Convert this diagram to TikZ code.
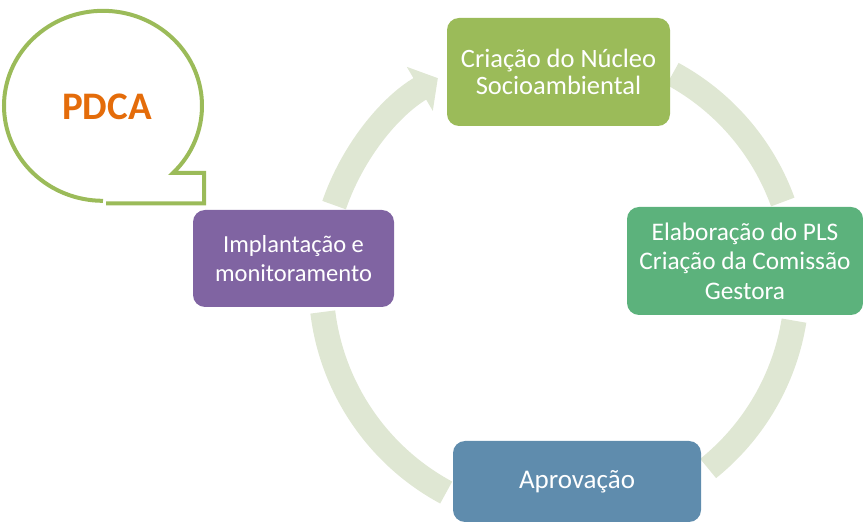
\documentclass[tikz,border=0pt]{standalone}
\usepackage{fontspec}
\setmainfont{Carlito}
\usetikzlibrary{arrows.meta}
\definecolor{ringgreen}{RGB}{223,231,211}
\definecolor{olivebox}{RGB}{155,187,89}
\definecolor{greenbox}{RGB}{92,178,124}
\definecolor{bluebox}{RGB}{95,140,173}
\definecolor{purplebox}{RGB}{128,100,162}
\definecolor{pdcaorange}{RGB}{228,108,10}
\tikzset{
    stagebox/.style={rectangle, rounded corners=12pt, draw=none, text=white, align=center,
        inner sep=0pt, font=\fontsize{25}{28}\selectfont},
    ringarc/.style={draw=ringgreen, line width=25pt}
}
\begin{document}
\begin{tikzpicture}[x=1pt, y=1pt]
            \useasboundingbox (0,0) rectangle (863,525);
            \coordinate (ctr) at (559,242);
            % ring
            \draw[ringarc] ([shift={(61.5:238)}]ctr) arc[start angle=61.5, end angle=19.9, radius=238];
            \draw[ringarc] ([shift={(-9.1:238)}]ctr) arc[start angle=-9.1, end angle=-51.2, radius=238];
            \draw[ringarc] ([shift={(241.7:238)}]ctr) arc[start angle=241.7, end angle=187, radius=238];
            \draw[ringarc, -{Triangle[width=50pt, length=21pt]}] ([shift={(160.9:238)}]ctr) arc[start angle=160.9, end angle=120.6, radius=238];
            % stages
            \node[stagebox, fill=olivebox, minimum width=223pt, minimum height=108pt, font=\fontsize{26.5}{27}\selectfont] (nucleo) at (558.5,453) {Criação do Núcleo\\Socioambiental};
            \node[stagebox, fill=greenbox, minimum width=236pt, minimum height=108pt, font=\fontsize{25.3}{29.5}\selectfont] (pls) at (745,264) {Elaboração do PLS\\Criação da Comissão\\Gestora};
            \node[stagebox, fill=bluebox, minimum width=248pt, minimum height=81pt, font=\fontsize{27}{28}\selectfont] (aprovacao) at (577,43.5) {Aprovação};
            \node[stagebox, fill=purplebox, minimum width=201pt, minimum height=97pt, font=\fontsize{24.5}{28.3}\selectfont] (implantacao) at (293.5,266.5) {Implantação e\\monitoramento};
            % callout
            \draw[olivebox, line width=4pt, line join=miter] (106,321.5) -- (204,321.5) -- (204,352) -- (173,352)
                arc[start angle=-45, end angle=270, x radius=99, y radius=95];
            \node[text=pdcaorange, font=\fontsize{39}{42}\selectfont\bfseries] (pdca) at (107,418) {PDCA};
        \end{tikzpicture}
\end{document}
